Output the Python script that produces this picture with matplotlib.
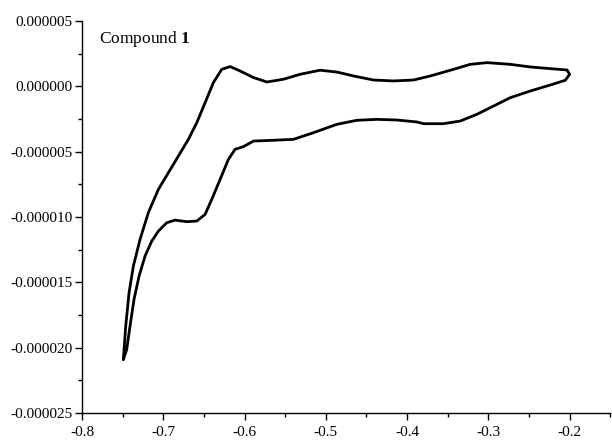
import matplotlib
matplotlib.use("Agg")
import matplotlib.pyplot as plt
from matplotlib.ticker import MultipleLocator, FuncFormatter

plt.rcParams['font.family'] = ['Liberation Serif', 'DejaVu Serif']
plt.rcParams['mathtext.fontset'] = 'custom'
plt.rcParams['mathtext.rm'] = 'Liberation Serif'
plt.rcParams['mathtext.bf'] = 'Liberation Serif:bold'

# potential (V) and current (uA)
# forward scan (-0.75 -> -0.2), then the return scan back to -0.75
potential = [-0.7491, -0.7462, -0.7421, -0.7368, -0.7286, -0.7183, -0.7060, -0.6937,
             -0.6814, -0.6691, -0.6587, -0.6485, -0.6383, -0.6280, -0.6177, -0.6054,
             -0.5890, -0.5725, -0.5521, -0.5315, -0.5069, -0.4863, -0.4659, -0.4413,
             -0.4166, -0.3920, -0.3714, -0.3427, -0.3222, -0.3016, -0.2729, -0.2483,
             -0.2236, -0.2031, -0.1999,
             -0.2052, -0.2236, -0.2483, -0.2729, -0.2935, -0.3139, -0.3345, -0.3550,
             -0.3797, -0.3878, -0.4124, -0.4371, -0.4617, -0.4863, -0.5152, -0.5398,
             -0.5644, -0.5890, -0.6014, -0.6116, -0.6198, -0.6300, -0.6403, -0.6485,
             -0.6587, -0.6711, -0.6855, -0.6957, -0.7060, -0.7142, -0.7224, -0.7298,
             -0.7360, -0.7409, -0.7450, -0.7491]
current_uA = [-20.90, -18.35, -15.80, -13.76, -11.72, -9.66, -7.89, -6.61,
              -5.34, -4.06, -2.78, -1.25, 0.28, 1.30, 1.51, 1.17,
              0.67, 0.33, 0.54, 0.92, 1.23, 1.09, 0.79, 0.48,
              0.41, 0.48, 0.79, 1.30, 1.68, 1.81, 1.68, 1.48,
              1.35, 1.25, 0.92,
              0.46, 0.10, -0.36, -0.87, -1.51, -2.14, -2.66, -2.86,
              -2.86, -2.73, -2.58, -2.53, -2.60, -2.91, -3.55, -4.06,
              -4.13, -4.19, -4.62, -4.82, -5.59, -7.12, -8.65, -9.80,
              -10.31, -10.36, -10.24, -10.44, -11.08, -11.85, -12.99, -14.53,
              -16.31, -18.35, -20.14, -20.90]

current = [c * 1e-6 for c in current_uA]

fig = plt.figure(figsize=(6.12, 4.43), dpi=100)
ax = fig.add_axes([0.134, 0.0677, 0.863, 0.885])

ax.plot(potential, current, color='black', lw=2.0,
        solid_joinstyle='round', solid_capstyle='round')

ax.set_xlim(-0.8, -0.15)
ax.set_ylim(-0.000025, 0.000005)

ax.spines['top'].set_visible(False)
ax.spines['right'].set_visible(False)
ax.spines['left'].set_linewidth(1.0)
ax.spines['bottom'].set_linewidth(1.0)

ax.xaxis.set_major_locator(MultipleLocator(0.1))
ax.xaxis.set_minor_locator(MultipleLocator(0.05))
ax.yaxis.set_major_locator(MultipleLocator(0.000005))
ax.yaxis.set_minor_locator(MultipleLocator(0.0000025))

def fmt_x(v, pos):
    s = f"{v:.1f}"
    return "0.0" if s == "-0.0" else s

def fmt_y(v, pos):
    s = f"{v:.6f}"
    return "0.000000" if s == "-0.000000" else s

ax.xaxis.set_major_formatter(FuncFormatter(fmt_x))
ax.yaxis.set_major_formatter(FuncFormatter(fmt_y))

ax.tick_params(which='major', direction='out', length=5, width=1.0, labelsize=11)
ax.tick_params(which='minor', direction='out', length=3, width=1.0)
ax.tick_params(axis='y', which='major', pad=2)
ax.tick_params(axis='x', which='major', pad=4)

ax.text(0.033, 0.955, 'Compound $\\mathbf{1}$', transform=ax.transAxes,
        fontsize=12.5, va='center', ha='left')

fig.savefig('out.png', dpi=100)
